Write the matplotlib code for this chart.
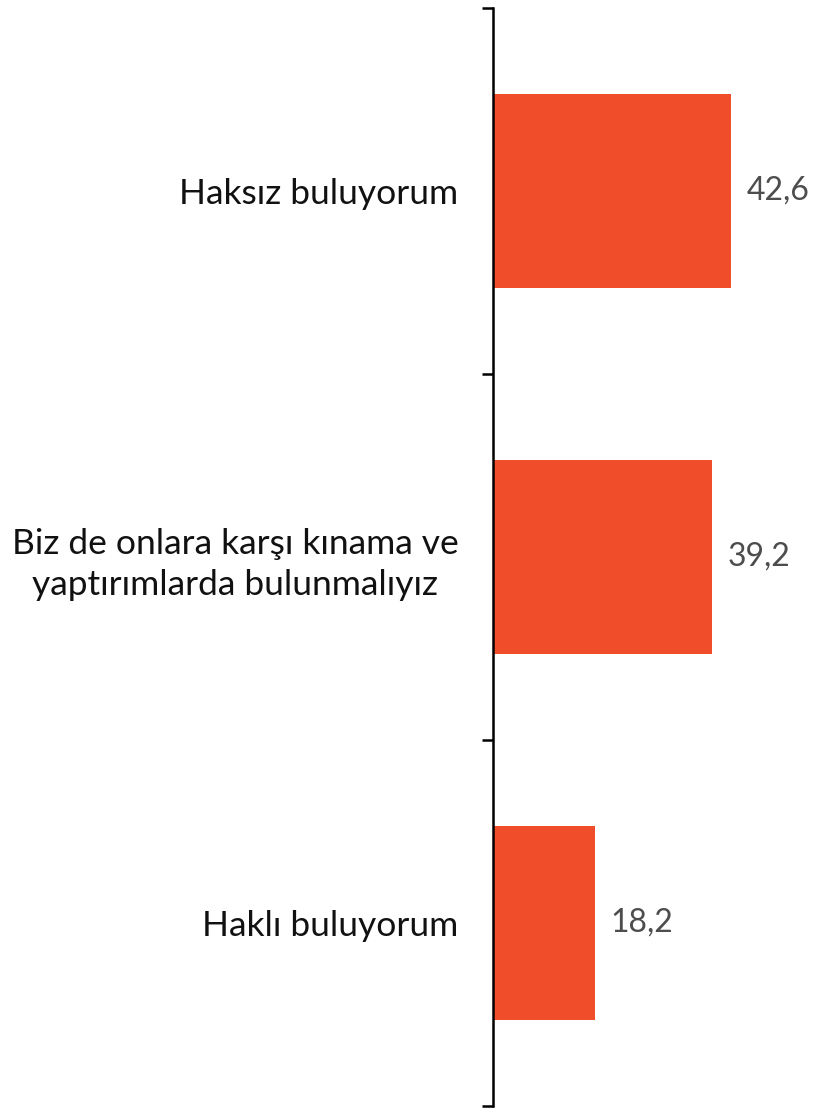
import matplotlib
matplotlib.use("Agg")
from matplotlib import pyplot as plt
import numpy as np

categories = ["Haksız buluyorum",
              "Biz de onlara karşı kınama ve\nyaptırımlarda bulunmalıyız",
              "Haklı buluyorum"]
values = [42.6, 39.2, 18.2]
value_labels = ["42,6", "39,2", "18,2"]

bar_color = "#F04E2B"
plt.rcParams['font.family'] = ['Lato', 'DejaVu Sans']

fig = plt.figure(figsize=(8.13, 11.08), dpi=100)
ax = fig.add_axes([493/813, 2/1108, 320/813, 1098/1108])

pos = np.arange(len(categories))
ax.barh(pos, values, height=0.53, color=bar_color)

ax.set_ylim(len(categories) - 0.5, -0.5)
ax.set_xlim(0, 320/5.587)

# ticks at category boundaries, labels at centres
ax.set_yticks(np.arange(len(categories) + 1) - 0.5)
ax.set_yticklabels([])
ax.set_yticks(pos, minor=True)
ax.set_yticklabels(categories, minor=True, fontsize=25.5, color="#111111")
for lbl in ax.get_yticklabels(minor=True):
    lbl.set_multialignment("center")
    lbl.set_linespacing(1.35)
ax.tick_params(axis="y", which="major", length=8, width=1.8, direction="out")
ax.tick_params(axis="y", which="minor", length=0, pad=25)

ax.set_xticks([])
for s in ["top", "right", "bottom"]:
    ax.spines[s].set_visible(False)
ax.spines["left"].set_linewidth(1.8)

for p, v, t in zip(pos, values, value_labels):
    ax.annotate(t, (v, p), xytext=(11, 0), textcoords="offset points",
                va="center", ha="left", fontsize=23, color="#4d4d4d")

fig.savefig("out.png", dpi=100)
